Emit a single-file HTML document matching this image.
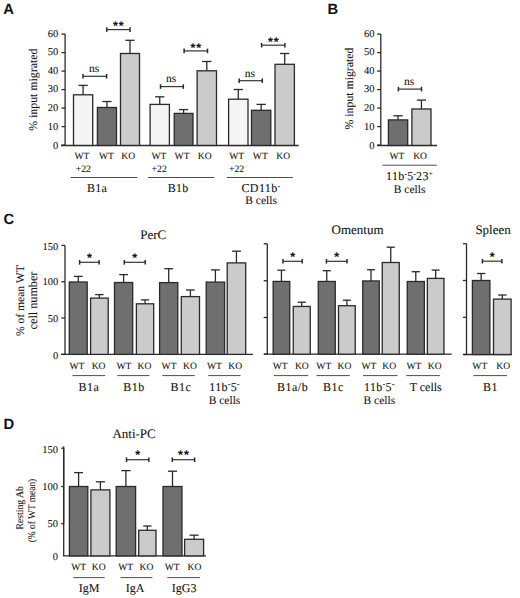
<!DOCTYPE html><html><head><meta charset="utf-8"><style>html,body{margin:0;padding:0;background:#fff;}svg{display:block;} text{text-rendering:geometricPrecision;}</style></head><body>
<svg width="520" height="598" viewBox="0 0 520 598">
<rect width="520" height="598" fill="#ffffff"/>
<text x="3.2" y="13.7" font-family="Liberation Sans" font-size="14.8" font-weight="bold" text-anchor="start" fill="#111" >A</text>
<text x="327.6" y="13.9" font-family="Liberation Sans" font-size="14.8" font-weight="bold" text-anchor="start" fill="#111" >B</text>
<text x="3.5" y="224.2" font-family="Liberation Sans" font-size="14.8" font-weight="bold" text-anchor="start" fill="#111" >C</text>
<text x="3.5" y="428.5" font-family="Liberation Sans" font-size="14.8" font-weight="bold" text-anchor="start" fill="#111" >D</text>
<line x1="65.1" y1="34.1" x2="65.1" y2="145.1" stroke="#2a2a2a" stroke-width="1.3"/>
<line x1="61.5" y1="145.1" x2="65.1" y2="145.1" stroke="#2a2a2a" stroke-width="1.3"/>
<text x="58.3" y="149.4" font-family="Liberation Serif" font-size="10.5" font-weight="normal" text-anchor="end" fill="#111" stroke="#111" stroke-width="0.08" >0</text>
<line x1="61.5" y1="126.6" x2="65.1" y2="126.6" stroke="#2a2a2a" stroke-width="1.3"/>
<text x="58.3" y="130.3" font-family="Liberation Serif" font-size="10.5" font-weight="normal" text-anchor="end" fill="#111" stroke="#111" stroke-width="0.08" >10</text>
<line x1="61.5" y1="108.1" x2="65.1" y2="108.1" stroke="#2a2a2a" stroke-width="1.3"/>
<text x="58.3" y="111.4" font-family="Liberation Serif" font-size="10.5" font-weight="normal" text-anchor="end" fill="#111" stroke="#111" stroke-width="0.08" >20</text>
<line x1="61.5" y1="89.6" x2="65.1" y2="89.6" stroke="#2a2a2a" stroke-width="1.3"/>
<text x="58.3" y="92.3" font-family="Liberation Serif" font-size="10.5" font-weight="normal" text-anchor="end" fill="#111" stroke="#111" stroke-width="0.08" >30</text>
<line x1="61.5" y1="71.1" x2="65.1" y2="71.1" stroke="#2a2a2a" stroke-width="1.3"/>
<text x="58.3" y="73.7" font-family="Liberation Serif" font-size="10.5" font-weight="normal" text-anchor="end" fill="#111" stroke="#111" stroke-width="0.08" >40</text>
<line x1="61.5" y1="52.6" x2="65.1" y2="52.6" stroke="#2a2a2a" stroke-width="1.3"/>
<text x="58.3" y="55.1" font-family="Liberation Serif" font-size="10.5" font-weight="normal" text-anchor="end" fill="#111" stroke="#111" stroke-width="0.08" >50</text>
<line x1="61.5" y1="34.1" x2="65.1" y2="34.1" stroke="#2a2a2a" stroke-width="1.3"/>
<text x="58.3" y="36.5" font-family="Liberation Serif" font-size="10.5" font-weight="normal" text-anchor="end" fill="#111" stroke="#111" stroke-width="0.08" >60</text>
<line x1="61.0" y1="145.4" x2="298.7" y2="145.4" stroke="#2a2a2a" stroke-width="1.5"/>
<line x1="83.1" y1="94.8" x2="83.1" y2="85.4" stroke="#2a2a2a" stroke-width="1.3"/>
<line x1="78.49" y1="85.4" x2="87.71" y2="85.4" stroke="#2a2a2a" stroke-width="1.3"/>
<rect x="73.5" y="94.8" width="19.2" height="50.6" fill="#f5f5f5" stroke="#2a2a2a" stroke-width="1.3"/>
<line x1="106.95" y1="107.5" x2="106.95" y2="101.5" stroke="#2a2a2a" stroke-width="1.3"/>
<line x1="102.37" y1="101.5" x2="111.53" y2="101.5" stroke="#2a2a2a" stroke-width="1.3"/>
<rect x="97.4" y="107.5" width="19.1" height="37.9" fill="#6f6f6f" stroke="#2a2a2a" stroke-width="1.3"/>
<line x1="130.0" y1="53.5" x2="130.0" y2="40.3" stroke="#2a2a2a" stroke-width="1.3"/>
<line x1="125.44" y1="40.3" x2="134.56" y2="40.3" stroke="#2a2a2a" stroke-width="1.3"/>
<rect x="120.5" y="53.5" width="19.0" height="91.9" fill="#cbcbcb" stroke="#2a2a2a" stroke-width="1.3"/>
<line x1="159.75" y1="104.4" x2="159.75" y2="96.8" stroke="#2a2a2a" stroke-width="1.3"/>
<line x1="155.12" y1="96.8" x2="164.38" y2="96.8" stroke="#2a2a2a" stroke-width="1.3"/>
<rect x="150.1" y="104.4" width="19.3" height="41.0" fill="#f5f5f5" stroke="#2a2a2a" stroke-width="1.3"/>
<line x1="183.6" y1="113.4" x2="183.6" y2="109.6" stroke="#2a2a2a" stroke-width="1.3"/>
<line x1="179.09" y1="109.6" x2="188.11" y2="109.6" stroke="#2a2a2a" stroke-width="1.3"/>
<rect x="174.2" y="113.4" width="18.8" height="32.0" fill="#6f6f6f" stroke="#2a2a2a" stroke-width="1.3"/>
<line x1="206.8" y1="70.8" x2="206.8" y2="61.5" stroke="#2a2a2a" stroke-width="1.3"/>
<line x1="202.14" y1="61.5" x2="211.46" y2="61.5" stroke="#2a2a2a" stroke-width="1.3"/>
<rect x="197.1" y="70.8" width="19.4" height="74.6" fill="#cbcbcb" stroke="#2a2a2a" stroke-width="1.3"/>
<line x1="238.3" y1="99.2" x2="238.3" y2="89.5" stroke="#2a2a2a" stroke-width="1.3"/>
<line x1="233.64" y1="89.5" x2="242.96" y2="89.5" stroke="#2a2a2a" stroke-width="1.3"/>
<rect x="228.6" y="99.2" width="19.4" height="46.2" fill="#f5f5f5" stroke="#2a2a2a" stroke-width="1.3"/>
<line x1="261.15" y1="110.3" x2="261.15" y2="104.4" stroke="#2a2a2a" stroke-width="1.3"/>
<line x1="256.52" y1="104.4" x2="265.78" y2="104.4" stroke="#2a2a2a" stroke-width="1.3"/>
<rect x="251.5" y="110.3" width="19.3" height="35.1" fill="#6f6f6f" stroke="#2a2a2a" stroke-width="1.3"/>
<line x1="284.7" y1="64.3" x2="284.7" y2="53.5" stroke="#2a2a2a" stroke-width="1.3"/>
<line x1="280.04" y1="53.5" x2="289.36" y2="53.5" stroke="#2a2a2a" stroke-width="1.3"/>
<rect x="275.0" y="64.3" width="19.4" height="81.1" fill="#cbcbcb" stroke="#2a2a2a" stroke-width="1.3"/>
<line x1="83.0" y1="76.3" x2="106.6" y2="76.3" stroke="#333333" stroke-width="1.2"/>
<line x1="83.0" y1="74.0" x2="83.0" y2="78.6" stroke="#2a2a2a" stroke-width="1.5"/>
<line x1="106.6" y1="74.0" x2="106.6" y2="78.6" stroke="#2a2a2a" stroke-width="1.5"/>
<text x="94.0" y="72.1" font-family="Liberation Serif" font-size="11.5" font-weight="normal" text-anchor="middle" fill="#111" stroke="#111" stroke-width="0.08" >ns</text>
<line x1="106.7" y1="29.6" x2="130.0" y2="29.6" stroke="#333333" stroke-width="1.2"/>
<line x1="106.7" y1="27.3" x2="106.7" y2="31.9" stroke="#2a2a2a" stroke-width="1.5"/>
<line x1="130.0" y1="27.3" x2="130.0" y2="31.9" stroke="#2a2a2a" stroke-width="1.5"/>
<text x="118.85" y="29.8" font-family="Liberation Sans" font-size="12.5" font-weight="bold" text-anchor="middle" fill="#111" stroke="#111" stroke-width="0.08" letter-spacing="1.0">**</text>
<line x1="160.5" y1="86.6" x2="183.3" y2="86.6" stroke="#333333" stroke-width="1.2"/>
<line x1="160.5" y1="84.3" x2="160.5" y2="88.9" stroke="#2a2a2a" stroke-width="1.5"/>
<line x1="183.3" y1="84.3" x2="183.3" y2="88.9" stroke="#2a2a2a" stroke-width="1.5"/>
<text x="171.1" y="82.4" font-family="Liberation Serif" font-size="11.5" font-weight="normal" text-anchor="middle" fill="#111" stroke="#111" stroke-width="0.08" >ns</text>
<line x1="184.1" y1="50.9" x2="207.5" y2="50.9" stroke="#333333" stroke-width="1.2"/>
<line x1="184.1" y1="48.6" x2="184.1" y2="53.2" stroke="#2a2a2a" stroke-width="1.5"/>
<line x1="207.5" y1="48.6" x2="207.5" y2="53.2" stroke="#2a2a2a" stroke-width="1.5"/>
<text x="196.3" y="51.5" font-family="Liberation Sans" font-size="12.5" font-weight="bold" text-anchor="middle" fill="#111" stroke="#111" stroke-width="0.08" letter-spacing="1.0">**</text>
<line x1="239.2" y1="80.7" x2="262.3" y2="80.7" stroke="#333333" stroke-width="1.2"/>
<line x1="239.2" y1="78.4" x2="239.2" y2="83.0" stroke="#2a2a2a" stroke-width="1.5"/>
<line x1="262.3" y1="78.4" x2="262.3" y2="83.0" stroke="#2a2a2a" stroke-width="1.5"/>
<text x="249.95" y="76.5" font-family="Liberation Serif" font-size="11.5" font-weight="normal" text-anchor="middle" fill="#111" stroke="#111" stroke-width="0.08" >ns</text>
<line x1="261.6" y1="45.2" x2="284.9" y2="45.2" stroke="#333333" stroke-width="1.2"/>
<line x1="261.6" y1="42.9" x2="261.6" y2="47.5" stroke="#2a2a2a" stroke-width="1.5"/>
<line x1="284.9" y1="42.9" x2="284.9" y2="47.5" stroke="#2a2a2a" stroke-width="1.5"/>
<text x="273.75" y="45.7" font-family="Liberation Sans" font-size="12.5" font-weight="bold" text-anchor="middle" fill="#111" stroke="#111" stroke-width="0.08" letter-spacing="1.0">**</text>
<text x="81.9" y="159.4" font-family="Liberation Serif" font-size="9.6" font-weight="normal" text-anchor="middle" fill="#111" stroke="#111" stroke-width="0.08" >WT</text>
<text x="106.5" y="159.4" font-family="Liberation Serif" font-size="9.6" font-weight="normal" text-anchor="middle" fill="#111" stroke="#111" stroke-width="0.08" >WT</text>
<text x="128.3" y="159.4" font-family="Liberation Serif" font-size="9.6" font-weight="normal" text-anchor="middle" fill="#111" stroke="#111" stroke-width="0.08" >KO</text>
<text x="158.95" y="159.4" font-family="Liberation Serif" font-size="9.6" font-weight="normal" text-anchor="middle" fill="#111" stroke="#111" stroke-width="0.08" >WT</text>
<text x="182.05" y="159.4" font-family="Liberation Serif" font-size="9.6" font-weight="normal" text-anchor="middle" fill="#111" stroke="#111" stroke-width="0.08" >WT</text>
<text x="204.75" y="159.4" font-family="Liberation Serif" font-size="9.6" font-weight="normal" text-anchor="middle" fill="#111" stroke="#111" stroke-width="0.08" >KO</text>
<text x="236.7" y="159.4" font-family="Liberation Serif" font-size="9.6" font-weight="normal" text-anchor="middle" fill="#111" stroke="#111" stroke-width="0.08" >WT</text>
<text x="260.3" y="159.4" font-family="Liberation Serif" font-size="9.6" font-weight="normal" text-anchor="middle" fill="#111" stroke="#111" stroke-width="0.08" >WT</text>
<text x="283.25" y="159.4" font-family="Liberation Serif" font-size="9.6" font-weight="normal" text-anchor="middle" fill="#111" stroke="#111" stroke-width="0.08" >KO</text>
<text x="83.35" y="171.8" font-family="Liberation Serif" font-size="9.8" font-weight="normal" text-anchor="middle" fill="#111" stroke="#111" stroke-width="0.08" >+22</text>
<text x="159.25" y="171.8" font-family="Liberation Serif" font-size="9.8" font-weight="normal" text-anchor="middle" fill="#111" stroke="#111" stroke-width="0.08" >+22</text>
<text x="236.6" y="171.8" font-family="Liberation Serif" font-size="9.8" font-weight="normal" text-anchor="middle" fill="#111" stroke="#111" stroke-width="0.08" >+22</text>
<line x1="70.6" y1="177.5" x2="137.2" y2="177.5" stroke="#454545" stroke-width="0.95"/>
<line x1="148.0" y1="177.5" x2="214.3" y2="177.5" stroke="#454545" stroke-width="0.95"/>
<line x1="226.9" y1="177.5" x2="292.9" y2="177.5" stroke="#454545" stroke-width="0.95"/>
<text x="97.1" y="192.3" font-family="Liberation Serif" font-size="12" font-weight="normal" text-anchor="middle" fill="#111" stroke="#111" stroke-width="0.08" letter-spacing="0.3">B1a</text>
<text x="178.1" y="192.3" font-family="Liberation Serif" font-size="12" font-weight="normal" text-anchor="middle" fill="#111" stroke="#111" stroke-width="0.08" letter-spacing="0.3">B1b</text>
<text x="260.9" y="192.2" font-family="Liberation Serif" font-size="12" font-weight="normal" text-anchor="middle" fill="#111" stroke="#111" stroke-width="0.08" letter-spacing="0.4">CD11b<tspan font-size="7" dy="-4.5">-</tspan></text>
<text x="261.1" y="203.6" font-family="Liberation Serif" font-size="11.5" font-weight="normal" text-anchor="middle" fill="#111" stroke="#111" stroke-width="0.08" >B cells</text>
<text x="32.8" y="89.7" font-family="Liberation Serif" font-size="11.85" font-weight="normal" text-anchor="middle" fill="#111" stroke="#111" stroke-width="0.08" transform="rotate(-90 32.8 89.7)" dominant-baseline="central">% input migrated</text>
<line x1="380.8" y1="34.1" x2="380.8" y2="145.1" stroke="#2a2a2a" stroke-width="1.3"/>
<line x1="377.2" y1="145.1" x2="380.8" y2="145.1" stroke="#2a2a2a" stroke-width="1.3"/>
<text x="374.6" y="149.4" font-family="Liberation Serif" font-size="10.5" font-weight="normal" text-anchor="end" fill="#111" stroke="#111" stroke-width="0.08" >0</text>
<line x1="377.2" y1="126.6" x2="380.8" y2="126.6" stroke="#2a2a2a" stroke-width="1.3"/>
<text x="374.6" y="130.3" font-family="Liberation Serif" font-size="10.5" font-weight="normal" text-anchor="end" fill="#111" stroke="#111" stroke-width="0.08" >10</text>
<line x1="377.2" y1="108.1" x2="380.8" y2="108.1" stroke="#2a2a2a" stroke-width="1.3"/>
<text x="374.6" y="111.4" font-family="Liberation Serif" font-size="10.5" font-weight="normal" text-anchor="end" fill="#111" stroke="#111" stroke-width="0.08" >20</text>
<line x1="377.2" y1="89.6" x2="380.8" y2="89.6" stroke="#2a2a2a" stroke-width="1.3"/>
<text x="374.6" y="92.3" font-family="Liberation Serif" font-size="10.5" font-weight="normal" text-anchor="end" fill="#111" stroke="#111" stroke-width="0.08" >30</text>
<line x1="377.2" y1="71.1" x2="380.8" y2="71.1" stroke="#2a2a2a" stroke-width="1.3"/>
<text x="374.6" y="73.7" font-family="Liberation Serif" font-size="10.5" font-weight="normal" text-anchor="end" fill="#111" stroke="#111" stroke-width="0.08" >40</text>
<line x1="377.2" y1="52.6" x2="380.8" y2="52.6" stroke="#2a2a2a" stroke-width="1.3"/>
<text x="374.6" y="55.1" font-family="Liberation Serif" font-size="10.5" font-weight="normal" text-anchor="end" fill="#111" stroke="#111" stroke-width="0.08" >50</text>
<line x1="377.2" y1="34.1" x2="380.8" y2="34.1" stroke="#2a2a2a" stroke-width="1.3"/>
<text x="374.6" y="36.5" font-family="Liberation Serif" font-size="10.5" font-weight="normal" text-anchor="end" fill="#111" stroke="#111" stroke-width="0.08" >60</text>
<line x1="377.0" y1="145.4" x2="437.0" y2="145.4" stroke="#2a2a2a" stroke-width="1.5"/>
<line x1="398.05" y1="119.9" x2="398.05" y2="115.8" stroke="#2a2a2a" stroke-width="1.3"/>
<line x1="393.42" y1="115.8" x2="402.68" y2="115.8" stroke="#2a2a2a" stroke-width="1.3"/>
<rect x="388.4" y="119.9" width="19.3" height="25.5" fill="#6f6f6f" stroke="#2a2a2a" stroke-width="1.3"/>
<line x1="421.45" y1="109.0" x2="421.45" y2="100.1" stroke="#2a2a2a" stroke-width="1.3"/>
<line x1="416.87" y1="100.1" x2="426.03" y2="100.1" stroke="#2a2a2a" stroke-width="1.3"/>
<rect x="411.9" y="109.0" width="19.1" height="36.4" fill="#cbcbcb" stroke="#2a2a2a" stroke-width="1.3"/>
<line x1="398.4" y1="89.1" x2="421.5" y2="89.1" stroke="#333333" stroke-width="1.2"/>
<line x1="398.4" y1="86.8" x2="398.4" y2="91.4" stroke="#2a2a2a" stroke-width="1.5"/>
<line x1="421.5" y1="86.8" x2="421.5" y2="91.4" stroke="#2a2a2a" stroke-width="1.5"/>
<text x="409.15" y="84.9" font-family="Liberation Serif" font-size="11.5" font-weight="normal" text-anchor="middle" fill="#111" stroke="#111" stroke-width="0.08" >ns</text>
<text x="396.95" y="159.2" font-family="Liberation Serif" font-size="9.6" font-weight="normal" text-anchor="middle" fill="#111" stroke="#111" stroke-width="0.08" >WT</text>
<text x="420.1" y="159.2" font-family="Liberation Serif" font-size="9.6" font-weight="normal" text-anchor="middle" fill="#111" stroke="#111" stroke-width="0.08" >KO</text>
<line x1="382.4" y1="165.2" x2="436.9" y2="165.2" stroke="#454545" stroke-width="0.95"/>
<text x="409.5" y="180.4" font-family="Liberation Serif" font-size="12" font-weight="normal" text-anchor="middle" fill="#111" stroke="#111" stroke-width="0.08" letter-spacing="0.3">11b<tspan font-size="7" dy="-4.5">-</tspan><tspan dy="4.5">5</tspan><tspan font-size="7" dy="-4.5">-</tspan><tspan dy="4.5">23</tspan><tspan font-size="7" dy="-4.5">+</tspan></text>
<text x="409.6" y="192.6" font-family="Liberation Serif" font-size="11.5" font-weight="normal" text-anchor="middle" fill="#111" stroke="#111" stroke-width="0.08" >B cells</text>
<text x="349.0" y="88.5" font-family="Liberation Serif" font-size="11.8" font-weight="normal" text-anchor="middle" fill="#111" stroke="#111" stroke-width="0.08" transform="rotate(-90 349.0 88.5)" dominant-baseline="central">% input migrated</text>
<line x1="65.0" y1="245.39" x2="65.0" y2="354.4" stroke="#2a2a2a" stroke-width="1.3"/>
<line x1="61.4" y1="354.4" x2="65.0" y2="354.4" stroke="#2a2a2a" stroke-width="1.3"/>
<text x="58.2" y="359.4" font-family="Liberation Serif" font-size="10.5" font-weight="normal" text-anchor="end" fill="#111" stroke="#111" stroke-width="0.08" >0</text>
<line x1="61.4" y1="318.06" x2="65.0" y2="318.06" stroke="#2a2a2a" stroke-width="1.3"/>
<text x="58.2" y="322.37" font-family="Liberation Serif" font-size="10.5" font-weight="normal" text-anchor="end" fill="#111" stroke="#111" stroke-width="0.08" >50</text>
<line x1="61.4" y1="281.73" x2="65.0" y2="281.73" stroke="#2a2a2a" stroke-width="1.3"/>
<text x="58.2" y="285.43" font-family="Liberation Serif" font-size="10.5" font-weight="normal" text-anchor="end" fill="#111" stroke="#111" stroke-width="0.08" >100</text>
<line x1="61.4" y1="245.39" x2="65.0" y2="245.39" stroke="#2a2a2a" stroke-width="1.3"/>
<text x="58.2" y="250.19" font-family="Liberation Serif" font-size="10.5" font-weight="normal" text-anchor="end" fill="#111" stroke="#111" stroke-width="0.08" >150</text>
<line x1="61.0" y1="354.4" x2="253.0" y2="354.4" stroke="#2a2a2a" stroke-width="1.3"/>
<line x1="78.25" y1="282.0" x2="78.25" y2="276.4" stroke="#2a2a2a" stroke-width="1.3"/>
<line x1="73.95" y1="276.4" x2="82.55" y2="276.4" stroke="#2a2a2a" stroke-width="1.3"/>
<rect x="69.3" y="282.0" width="17.9" height="72.4" fill="#6f6f6f" stroke="#2a2a2a" stroke-width="1.3"/>
<line x1="99.4" y1="298.1" x2="99.4" y2="294.6" stroke="#2a2a2a" stroke-width="1.3"/>
<line x1="95.18" y1="294.6" x2="103.62" y2="294.6" stroke="#2a2a2a" stroke-width="1.3"/>
<rect x="90.6" y="298.1" width="17.6" height="56.3" fill="#cbcbcb" stroke="#2a2a2a" stroke-width="1.3"/>
<line x1="123.6" y1="282.5" x2="123.6" y2="274.6" stroke="#2a2a2a" stroke-width="1.3"/>
<line x1="119.23" y1="274.6" x2="127.97" y2="274.6" stroke="#2a2a2a" stroke-width="1.3"/>
<rect x="114.5" y="282.5" width="18.2" height="71.9" fill="#6f6f6f" stroke="#2a2a2a" stroke-width="1.3"/>
<line x1="145.05" y1="303.8" x2="145.05" y2="299.9" stroke="#2a2a2a" stroke-width="1.3"/>
<line x1="140.9" y1="299.9" x2="149.2" y2="299.9" stroke="#2a2a2a" stroke-width="1.3"/>
<rect x="136.4" y="303.8" width="17.3" height="50.6" fill="#cbcbcb" stroke="#2a2a2a" stroke-width="1.3"/>
<line x1="168.7" y1="282.6" x2="168.7" y2="268.7" stroke="#2a2a2a" stroke-width="1.3"/>
<line x1="164.33" y1="268.7" x2="173.07" y2="268.7" stroke="#2a2a2a" stroke-width="1.3"/>
<rect x="159.6" y="282.6" width="18.2" height="71.8" fill="#6f6f6f" stroke="#2a2a2a" stroke-width="1.3"/>
<line x1="190.4" y1="296.6" x2="190.4" y2="290.0" stroke="#2a2a2a" stroke-width="1.3"/>
<line x1="186.03" y1="290.0" x2="194.77" y2="290.0" stroke="#2a2a2a" stroke-width="1.3"/>
<rect x="181.3" y="296.6" width="18.2" height="57.8" fill="#cbcbcb" stroke="#2a2a2a" stroke-width="1.3"/>
<line x1="215.4" y1="282.1" x2="215.4" y2="269.9" stroke="#2a2a2a" stroke-width="1.3"/>
<line x1="210.98" y1="269.9" x2="219.82" y2="269.9" stroke="#2a2a2a" stroke-width="1.3"/>
<rect x="206.2" y="282.1" width="18.4" height="72.3" fill="#6f6f6f" stroke="#2a2a2a" stroke-width="1.3"/>
<line x1="236.45" y1="262.9" x2="236.45" y2="251.2" stroke="#2a2a2a" stroke-width="1.3"/>
<line x1="232.01" y1="251.2" x2="240.89" y2="251.2" stroke="#2a2a2a" stroke-width="1.3"/>
<rect x="227.2" y="262.9" width="18.5" height="91.5" fill="#cbcbcb" stroke="#2a2a2a" stroke-width="1.3"/>
<line x1="79.6" y1="262.3" x2="99.1" y2="262.3" stroke="#333333" stroke-width="1.2"/>
<line x1="79.6" y1="260.0" x2="79.6" y2="264.6" stroke="#2a2a2a" stroke-width="1.5"/>
<line x1="99.1" y1="260.0" x2="99.1" y2="264.6" stroke="#2a2a2a" stroke-width="1.5"/>
<text x="89.35" y="262.0" font-family="Liberation Sans" font-size="12.5" font-weight="bold" text-anchor="middle" fill="#111" stroke="#111" stroke-width="0.08" >*</text>
<line x1="124.3" y1="262.3" x2="145.2" y2="262.3" stroke="#333333" stroke-width="1.2"/>
<line x1="124.3" y1="260.0" x2="124.3" y2="264.6" stroke="#2a2a2a" stroke-width="1.5"/>
<line x1="145.2" y1="260.0" x2="145.2" y2="264.6" stroke="#2a2a2a" stroke-width="1.5"/>
<text x="134.75" y="262.0" font-family="Liberation Sans" font-size="12.5" font-weight="bold" text-anchor="middle" fill="#111" stroke="#111" stroke-width="0.08" >*</text>
<line x1="267.3" y1="243.75" x2="267.3" y2="354.2" stroke="#2a2a2a" stroke-width="1.3"/>
<line x1="263.7" y1="354.2" x2="267.3" y2="354.2" stroke="#2a2a2a" stroke-width="1.3"/>
<line x1="263.7" y1="317.5" x2="267.3" y2="317.5" stroke="#2a2a2a" stroke-width="1.3"/>
<line x1="263.7" y1="280.75" x2="267.3" y2="280.75" stroke="#2a2a2a" stroke-width="1.3"/>
<line x1="263.7" y1="243.75" x2="267.3" y2="243.75" stroke="#2a2a2a" stroke-width="1.3"/>
<line x1="264.0" y1="354.2" x2="451.7" y2="354.2" stroke="#2a2a2a" stroke-width="1.3"/>
<line x1="281.45" y1="281.45" x2="281.45" y2="270.2" stroke="#2a2a2a" stroke-width="1.3"/>
<line x1="277.47" y1="270.2" x2="285.43" y2="270.2" stroke="#2a2a2a" stroke-width="1.3"/>
<rect x="273.15" y="281.45" width="16.6" height="72.75" fill="#6f6f6f" stroke="#2a2a2a" stroke-width="1.3"/>
<line x1="301.75" y1="306.45" x2="301.75" y2="302.2" stroke="#2a2a2a" stroke-width="1.3"/>
<line x1="297.67" y1="302.2" x2="305.83" y2="302.2" stroke="#2a2a2a" stroke-width="1.3"/>
<rect x="293.25" y="306.45" width="17.0" height="47.75" fill="#cbcbcb" stroke="#2a2a2a" stroke-width="1.3"/>
<line x1="326.75" y1="281.45" x2="326.75" y2="270.7" stroke="#2a2a2a" stroke-width="1.3"/>
<line x1="322.67" y1="270.7" x2="330.83" y2="270.7" stroke="#2a2a2a" stroke-width="1.3"/>
<rect x="318.25" y="281.45" width="17.0" height="72.75" fill="#6f6f6f" stroke="#2a2a2a" stroke-width="1.3"/>
<line x1="346.88" y1="305.7" x2="346.88" y2="300.2" stroke="#2a2a2a" stroke-width="1.3"/>
<line x1="342.86" y1="300.2" x2="350.89" y2="300.2" stroke="#2a2a2a" stroke-width="1.3"/>
<rect x="338.5" y="305.7" width="16.75" height="48.5" fill="#cbcbcb" stroke="#2a2a2a" stroke-width="1.3"/>
<line x1="371.0" y1="280.95" x2="371.0" y2="269.7" stroke="#2a2a2a" stroke-width="1.3"/>
<line x1="367.04" y1="269.7" x2="374.96" y2="269.7" stroke="#2a2a2a" stroke-width="1.3"/>
<rect x="362.75" y="280.95" width="16.5" height="73.25" fill="#6f6f6f" stroke="#2a2a2a" stroke-width="1.3"/>
<line x1="390.75" y1="262.5" x2="390.75" y2="247.2" stroke="#2a2a2a" stroke-width="1.3"/>
<line x1="386.67" y1="247.2" x2="394.83" y2="247.2" stroke="#2a2a2a" stroke-width="1.3"/>
<rect x="382.25" y="262.5" width="17.0" height="91.7" fill="#cbcbcb" stroke="#2a2a2a" stroke-width="1.3"/>
<line x1="415.8" y1="281.5" x2="415.8" y2="271.7" stroke="#2a2a2a" stroke-width="1.3"/>
<line x1="411.7" y1="271.7" x2="419.9" y2="271.7" stroke="#2a2a2a" stroke-width="1.3"/>
<rect x="407.25" y="281.5" width="17.1" height="72.7" fill="#6f6f6f" stroke="#2a2a2a" stroke-width="1.3"/>
<line x1="435.65" y1="278.4" x2="435.65" y2="270.1" stroke="#2a2a2a" stroke-width="1.3"/>
<line x1="431.67" y1="270.1" x2="439.63" y2="270.1" stroke="#2a2a2a" stroke-width="1.3"/>
<rect x="427.35" y="278.4" width="16.6" height="75.8" fill="#cbcbcb" stroke="#2a2a2a" stroke-width="1.3"/>
<line x1="283.0" y1="261.3" x2="302.2" y2="261.3" stroke="#333333" stroke-width="1.2"/>
<line x1="283.0" y1="259.0" x2="283.0" y2="263.6" stroke="#2a2a2a" stroke-width="1.5"/>
<line x1="302.2" y1="259.0" x2="302.2" y2="263.6" stroke="#2a2a2a" stroke-width="1.5"/>
<text x="292.6" y="260.9" font-family="Liberation Sans" font-size="12.5" font-weight="bold" text-anchor="middle" fill="#111" stroke="#111" stroke-width="0.08" >*</text>
<line x1="326.4" y1="261.3" x2="347.0" y2="261.3" stroke="#333333" stroke-width="1.2"/>
<line x1="326.4" y1="259.0" x2="326.4" y2="263.6" stroke="#2a2a2a" stroke-width="1.5"/>
<line x1="347.0" y1="259.0" x2="347.0" y2="263.6" stroke="#2a2a2a" stroke-width="1.5"/>
<text x="336.7" y="260.9" font-family="Liberation Sans" font-size="12.5" font-weight="bold" text-anchor="middle" fill="#111" stroke="#111" stroke-width="0.08" >*</text>
<line x1="466.5" y1="243.7" x2="466.5" y2="354.5" stroke="#2a2a2a" stroke-width="1.3"/>
<line x1="462.9" y1="354.5" x2="466.5" y2="354.5" stroke="#2a2a2a" stroke-width="1.3"/>
<line x1="462.9" y1="317.3" x2="466.5" y2="317.3" stroke="#2a2a2a" stroke-width="1.3"/>
<line x1="462.9" y1="280.5" x2="466.5" y2="280.5" stroke="#2a2a2a" stroke-width="1.3"/>
<line x1="462.9" y1="243.7" x2="466.5" y2="243.7" stroke="#2a2a2a" stroke-width="1.3"/>
<line x1="463.5" y1="354.5" x2="511.8" y2="354.5" stroke="#2a2a2a" stroke-width="1.3"/>
<line x1="481.15" y1="280.5" x2="481.15" y2="273.5" stroke="#2a2a2a" stroke-width="1.3"/>
<line x1="476.95" y1="273.5" x2="485.35" y2="273.5" stroke="#2a2a2a" stroke-width="1.3"/>
<rect x="472.4" y="280.5" width="17.5" height="74.0" fill="#6f6f6f" stroke="#2a2a2a" stroke-width="1.3"/>
<line x1="502.3" y1="299.1" x2="502.3" y2="295.0" stroke="#2a2a2a" stroke-width="1.3"/>
<line x1="498.08" y1="295.0" x2="506.52" y2="295.0" stroke="#2a2a2a" stroke-width="1.3"/>
<rect x="493.5" y="299.1" width="17.6" height="55.4" fill="#cbcbcb" stroke="#2a2a2a" stroke-width="1.3"/>
<line x1="482.4" y1="261.2" x2="501.9" y2="261.2" stroke="#333333" stroke-width="1.2"/>
<line x1="482.4" y1="258.9" x2="482.4" y2="263.5" stroke="#2a2a2a" stroke-width="1.5"/>
<line x1="501.9" y1="258.9" x2="501.9" y2="263.5" stroke="#2a2a2a" stroke-width="1.5"/>
<text x="492.15" y="260.8" font-family="Liberation Sans" font-size="12.5" font-weight="bold" text-anchor="middle" fill="#111" stroke="#111" stroke-width="0.08" >*</text>
<text x="77.0" y="369.2" font-family="Liberation Serif" font-size="9.6" font-weight="normal" text-anchor="middle" fill="#111" stroke="#111" stroke-width="0.08" >WT</text>
<text x="98.6" y="369.2" font-family="Liberation Serif" font-size="9.6" font-weight="normal" text-anchor="middle" fill="#111" stroke="#111" stroke-width="0.08" >KO</text>
<text x="124" y="369.2" font-family="Liberation Serif" font-size="9.6" font-weight="normal" text-anchor="middle" fill="#111" stroke="#111" stroke-width="0.08" >WT</text>
<text x="144.5" y="369.2" font-family="Liberation Serif" font-size="9.6" font-weight="normal" text-anchor="middle" fill="#111" stroke="#111" stroke-width="0.08" >KO</text>
<text x="169.05" y="369.2" font-family="Liberation Serif" font-size="9.6" font-weight="normal" text-anchor="middle" fill="#111" stroke="#111" stroke-width="0.08" >WT</text>
<text x="189.9" y="369.2" font-family="Liberation Serif" font-size="9.6" font-weight="normal" text-anchor="middle" fill="#111" stroke="#111" stroke-width="0.08" >KO</text>
<text x="214.45" y="369.2" font-family="Liberation Serif" font-size="9.6" font-weight="normal" text-anchor="middle" fill="#111" stroke="#111" stroke-width="0.08" >WT</text>
<text x="235.25" y="369.2" font-family="Liberation Serif" font-size="9.6" font-weight="normal" text-anchor="middle" fill="#111" stroke="#111" stroke-width="0.08" >KO</text>
<text x="280.1" y="369.2" font-family="Liberation Serif" font-size="9.6" font-weight="normal" text-anchor="middle" fill="#111" stroke="#111" stroke-width="0.08" >WT</text>
<text x="301.85" y="369.2" font-family="Liberation Serif" font-size="9.6" font-weight="normal" text-anchor="middle" fill="#111" stroke="#111" stroke-width="0.08" >KO</text>
<text x="323.8" y="369.2" font-family="Liberation Serif" font-size="9.6" font-weight="normal" text-anchor="middle" fill="#111" stroke="#111" stroke-width="0.08" >WT</text>
<text x="344.5" y="369.2" font-family="Liberation Serif" font-size="9.6" font-weight="normal" text-anchor="middle" fill="#111" stroke="#111" stroke-width="0.08" >KO</text>
<text x="368.85" y="369.2" font-family="Liberation Serif" font-size="9.6" font-weight="normal" text-anchor="middle" fill="#111" stroke="#111" stroke-width="0.08" >WT</text>
<text x="389.3" y="369.2" font-family="Liberation Serif" font-size="9.6" font-weight="normal" text-anchor="middle" fill="#111" stroke="#111" stroke-width="0.08" >KO</text>
<text x="414.0" y="369.2" font-family="Liberation Serif" font-size="9.6" font-weight="normal" text-anchor="middle" fill="#111" stroke="#111" stroke-width="0.08" >WT</text>
<text x="434.7" y="369.2" font-family="Liberation Serif" font-size="9.6" font-weight="normal" text-anchor="middle" fill="#111" stroke="#111" stroke-width="0.08" >KO</text>
<text x="479.8" y="369.2" font-family="Liberation Serif" font-size="9.6" font-weight="normal" text-anchor="middle" fill="#111" stroke="#111" stroke-width="0.08" >WT</text>
<text x="503.2" y="369.2" font-family="Liberation Serif" font-size="9.6" font-weight="normal" text-anchor="middle" fill="#111" stroke="#111" stroke-width="0.08" >KO</text>
<line x1="72.5" y1="375.6" x2="105.2" y2="375.6" stroke="#454545" stroke-width="0.95"/>
<line x1="117.3" y1="375.6" x2="149.4" y2="375.6" stroke="#454545" stroke-width="0.95"/>
<line x1="162.3" y1="375.6" x2="194.8" y2="375.6" stroke="#454545" stroke-width="0.95"/>
<line x1="208.2" y1="375.6" x2="240.5" y2="375.6" stroke="#454545" stroke-width="0.95"/>
<line x1="273.7" y1="375.6" x2="308.2" y2="375.6" stroke="#454545" stroke-width="0.95"/>
<line x1="316.5" y1="375.6" x2="349.8" y2="375.6" stroke="#454545" stroke-width="0.95"/>
<line x1="363.0" y1="375.6" x2="397.4" y2="375.6" stroke="#454545" stroke-width="0.95"/>
<line x1="406.2" y1="375.6" x2="439.9" y2="375.6" stroke="#454545" stroke-width="0.95"/>
<line x1="473.4" y1="375.6" x2="507.0" y2="375.6" stroke="#454545" stroke-width="0.95"/>
<text x="89.0" y="391.3" font-family="Liberation Serif" font-size="12" font-weight="normal" text-anchor="middle" fill="#111" stroke="#111" stroke-width="0.08" letter-spacing="0.5">B1a</text>
<text x="134.0" y="391.3" font-family="Liberation Serif" font-size="12" font-weight="normal" text-anchor="middle" fill="#111" stroke="#111" stroke-width="0.08" letter-spacing="0.5">B1b</text>
<text x="181.0" y="391.3" font-family="Liberation Serif" font-size="12" font-weight="normal" text-anchor="middle" fill="#111" stroke="#111" stroke-width="0.08" letter-spacing="0.5">B1c</text>
<text x="292.6" y="391.3" font-family="Liberation Serif" font-size="12" font-weight="normal" text-anchor="middle" fill="#111" stroke="#111" stroke-width="0.08" letter-spacing="0.5">B1a/b</text>
<text x="333.5" y="391.3" font-family="Liberation Serif" font-size="12" font-weight="normal" text-anchor="middle" fill="#111" stroke="#111" stroke-width="0.08" letter-spacing="0.5">B1c</text>
<text x="490.5" y="391.3" font-family="Liberation Serif" font-size="12" font-weight="normal" text-anchor="middle" fill="#111" stroke="#111" stroke-width="0.08" letter-spacing="0.5">B1</text>
<text x="425.7" y="391.3" font-family="Liberation Serif" font-size="12" font-weight="normal" text-anchor="middle" fill="#111" stroke="#111" stroke-width="0.08" >T cells</text>
<text x="224.5" y="391.3" font-family="Liberation Serif" font-size="12" font-weight="normal" text-anchor="middle" fill="#111" stroke="#111" stroke-width="0.08" letter-spacing="0.4">11b<tspan font-size="7" dy="-5">-</tspan><tspan dy="5">5</tspan><tspan font-size="7" dy="-5">-</tspan></text>
<text x="224.5" y="403.6" font-family="Liberation Serif" font-size="11.5" font-weight="normal" text-anchor="middle" fill="#111" stroke="#111" stroke-width="0.08" >B cells</text>
<text x="379.3" y="391.3" font-family="Liberation Serif" font-size="12" font-weight="normal" text-anchor="middle" fill="#111" stroke="#111" stroke-width="0.08" letter-spacing="0.4">11b<tspan font-size="7" dy="-5">-</tspan><tspan dy="5">5</tspan><tspan font-size="7" dy="-5">-</tspan></text>
<text x="379.3" y="403.6" font-family="Liberation Serif" font-size="11.5" font-weight="normal" text-anchor="middle" fill="#111" stroke="#111" stroke-width="0.08" >B cells</text>
<text x="153.2" y="239.2" font-family="Liberation Serif" font-size="13" font-weight="normal" text-anchor="middle" fill="#111" stroke="#111" stroke-width="0.08" >PerC</text>
<text x="357.5" y="234.2" font-family="Liberation Serif" font-size="13" font-weight="normal" text-anchor="middle" fill="#111" stroke="#111" stroke-width="0.08" >Omentum</text>
<text x="493.1" y="234.2" font-family="Liberation Serif" font-size="13" font-weight="normal" text-anchor="middle" fill="#111" stroke="#111" stroke-width="0.08" >Spleen</text>
<text x="20.6" y="300.6" font-family="Liberation Serif" font-size="11.6" font-weight="normal" text-anchor="middle" fill="#111" stroke="#111" stroke-width="0.08" transform="rotate(-90 20.6 300.6)" dominant-baseline="central">% of mean WT</text>
<text x="33.0" y="300.5" font-family="Liberation Serif" font-size="12.2" font-weight="normal" text-anchor="middle" fill="#111" stroke="#111" stroke-width="0.08" transform="rotate(-90 33.0 300.5)" dominant-baseline="central">cell number</text>
<line x1="63.7" y1="448.2" x2="63.7" y2="523.6" stroke="#2a2a2a" stroke-width="1.3"/>
<line x1="61.2" y1="523.6" x2="63.7" y2="523.6" stroke="#2a2a2a" stroke-width="1.3"/>
<text x="58.0" y="527.1" font-family="Liberation Serif" font-size="10.5" font-weight="normal" text-anchor="end" fill="#111" stroke="#111" stroke-width="0.08" >50</text>
<line x1="61.2" y1="486.5" x2="63.7" y2="486.5" stroke="#2a2a2a" stroke-width="1.3"/>
<text x="58.0" y="490.1" font-family="Liberation Serif" font-size="10.5" font-weight="normal" text-anchor="end" fill="#111" stroke="#111" stroke-width="0.08" >100</text>
<line x1="61.2" y1="448.2" x2="63.7" y2="448.2" stroke="#2a2a2a" stroke-width="1.3"/>
<text x="58.0" y="452.5" font-family="Liberation Serif" font-size="10.5" font-weight="normal" text-anchor="end" fill="#111" stroke="#111" stroke-width="0.08" >150</text>
<line x1="63.7" y1="446.2" x2="63.7" y2="555.9" stroke="#2a2a2a" stroke-width="1.3"/>
<text x="58.0" y="559.8" font-family="Liberation Serif" font-size="10.5" font-weight="normal" text-anchor="end" fill="#111" stroke="#111" stroke-width="0.08" >0</text>
<line x1="63.0" y1="555.9" x2="206.0" y2="555.9" stroke="#2a2a2a" stroke-width="1.3"/>
<line x1="78.6" y1="486.5" x2="78.6" y2="472.6" stroke="#2a2a2a" stroke-width="1.3"/>
<line x1="74.18" y1="472.6" x2="83.02" y2="472.6" stroke="#2a2a2a" stroke-width="1.3"/>
<rect x="69.4" y="486.5" width="18.4" height="69.4" fill="#6f6f6f" stroke="#2a2a2a" stroke-width="1.3"/>
<line x1="100.4" y1="489.9" x2="100.4" y2="481.8" stroke="#2a2a2a" stroke-width="1.3"/>
<line x1="95.84" y1="481.8" x2="104.96" y2="481.8" stroke="#2a2a2a" stroke-width="1.3"/>
<rect x="90.9" y="489.9" width="19.0" height="66.0" fill="#cbcbcb" stroke="#2a2a2a" stroke-width="1.3"/>
<line x1="125.9" y1="486.5" x2="125.9" y2="470.6" stroke="#2a2a2a" stroke-width="1.3"/>
<line x1="121.24" y1="470.6" x2="130.56" y2="470.6" stroke="#2a2a2a" stroke-width="1.3"/>
<rect x="116.2" y="486.5" width="19.4" height="69.4" fill="#6f6f6f" stroke="#2a2a2a" stroke-width="1.3"/>
<line x1="147.35" y1="530.3" x2="147.35" y2="526.0" stroke="#2a2a2a" stroke-width="1.3"/>
<line x1="143.2" y1="526.0" x2="151.5" y2="526.0" stroke="#2a2a2a" stroke-width="1.3"/>
<rect x="138.7" y="530.3" width="17.3" height="25.6" fill="#cbcbcb" stroke="#2a2a2a" stroke-width="1.3"/>
<line x1="172.5" y1="486.5" x2="172.5" y2="471.2" stroke="#2a2a2a" stroke-width="1.3"/>
<line x1="167.94" y1="471.2" x2="177.06" y2="471.2" stroke="#2a2a2a" stroke-width="1.3"/>
<rect x="163.0" y="486.5" width="19.0" height="69.4" fill="#6f6f6f" stroke="#2a2a2a" stroke-width="1.3"/>
<line x1="194.1" y1="539.3" x2="194.1" y2="535.2" stroke="#2a2a2a" stroke-width="1.3"/>
<line x1="189.54" y1="535.2" x2="198.66" y2="535.2" stroke="#2a2a2a" stroke-width="1.3"/>
<rect x="184.6" y="539.3" width="19.0" height="16.6" fill="#cbcbcb" stroke="#2a2a2a" stroke-width="1.3"/>
<line x1="126.5" y1="459.7" x2="148.9" y2="459.7" stroke="#333333" stroke-width="1.2"/>
<line x1="126.5" y1="457.4" x2="126.5" y2="462.0" stroke="#2a2a2a" stroke-width="1.5"/>
<line x1="148.9" y1="457.4" x2="148.9" y2="462.0" stroke="#2a2a2a" stroke-width="1.5"/>
<text x="137.7" y="458.6" font-family="Liberation Sans" font-size="12.5" font-weight="bold" text-anchor="middle" fill="#111" stroke="#111" stroke-width="0.08" >*</text>
<line x1="172.3" y1="459.7" x2="194.6" y2="459.7" stroke="#333333" stroke-width="1.2"/>
<line x1="172.3" y1="457.4" x2="172.3" y2="462.0" stroke="#2a2a2a" stroke-width="1.5"/>
<line x1="194.6" y1="457.4" x2="194.6" y2="462.0" stroke="#2a2a2a" stroke-width="1.5"/>
<text x="183.95" y="458.6" font-family="Liberation Sans" font-size="12.5" font-weight="bold" text-anchor="middle" fill="#111" stroke="#111" stroke-width="0.08" letter-spacing="1.0">**</text>
<text x="78.65" y="570.4" font-family="Liberation Serif" font-size="9.6" font-weight="normal" text-anchor="middle" fill="#111" stroke="#111" stroke-width="0.08" >WT</text>
<text x="98.8" y="570.4" font-family="Liberation Serif" font-size="9.6" font-weight="normal" text-anchor="middle" fill="#111" stroke="#111" stroke-width="0.08" >KO</text>
<text x="125.6" y="570.4" font-family="Liberation Serif" font-size="9.6" font-weight="normal" text-anchor="middle" fill="#111" stroke="#111" stroke-width="0.08" >WT</text>
<text x="146.5" y="570.4" font-family="Liberation Serif" font-size="9.6" font-weight="normal" text-anchor="middle" fill="#111" stroke="#111" stroke-width="0.08" >KO</text>
<text x="172.1" y="570.4" font-family="Liberation Serif" font-size="9.6" font-weight="normal" text-anchor="middle" fill="#111" stroke="#111" stroke-width="0.08" >WT</text>
<text x="194.5" y="570.4" font-family="Liberation Serif" font-size="9.6" font-weight="normal" text-anchor="middle" fill="#111" stroke="#111" stroke-width="0.08" >KO</text>
<line x1="73.4" y1="577.6" x2="104.7" y2="577.6" stroke="#454545" stroke-width="0.95"/>
<line x1="120.5" y1="577.6" x2="152.4" y2="577.6" stroke="#454545" stroke-width="0.95"/>
<line x1="167.3" y1="577.6" x2="200.0" y2="577.6" stroke="#454545" stroke-width="0.95"/>
<text x="89.1" y="591.6" font-family="Liberation Serif" font-size="12" font-weight="normal" text-anchor="middle" fill="#111" stroke="#111" stroke-width="0.08" >IgM</text>
<text x="135.1" y="591.6" font-family="Liberation Serif" font-size="12" font-weight="normal" text-anchor="middle" fill="#111" stroke="#111" stroke-width="0.08" >IgA</text>
<text x="184.2" y="591.6" font-family="Liberation Serif" font-size="12" font-weight="normal" text-anchor="middle" fill="#111" stroke="#111" stroke-width="0.08" >IgG3</text>
<text x="134.1" y="437.7" font-family="Liberation Serif" font-size="13" font-weight="normal" text-anchor="middle" fill="#111" stroke="#111" stroke-width="0.08" >Anti-PC</text>
<text x="20.6" y="507.8" font-family="Liberation Serif" font-size="10.3" font-weight="normal" text-anchor="middle" fill="#111" stroke="#111" stroke-width="0.08" transform="rotate(-90 20.6 507.8)" dominant-baseline="central" textLength="43.5" lengthAdjust="spacingAndGlyphs">Resting Ab</text>
<text x="32.3" y="510.5" font-family="Liberation Serif" font-size="10.3" font-weight="normal" text-anchor="middle" fill="#111" stroke="#111" stroke-width="0.08" transform="rotate(-90 32.3 510.5)" dominant-baseline="central" textLength="63.5" lengthAdjust="spacingAndGlyphs">(% of WT mean)</text>
</svg></body></html>
